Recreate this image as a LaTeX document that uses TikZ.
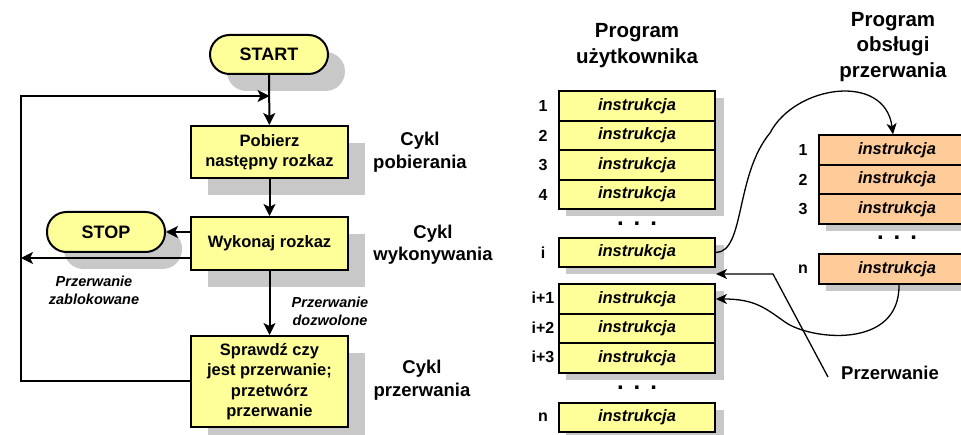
\documentclass[tikz,border=0pt]{standalone}
\usepackage{fontspec}
\setmainfont{Liberation Sans}
\usetikzlibrary{arrows.meta,shadows}
\definecolor{yel}{HTML}{FFFF99}
\definecolor{ora}{HTML}{FFCC99}
\definecolor{shd}{HTML}{C8C8C8}
\newcommand\fBox{\fontsize{16.5}{20.5}\selectfont\bfseries}
\newcommand\fTerm{\fontsize{18}{21}\selectfont\bfseries}
\newcommand\fCyk{\fontsize{18.5}{22.5}\selectfont\bfseries}
\newcommand\fIt{\fontsize{14.5}{18}\selectfont\bfseries\itshape}
\newcommand\fIns{\fontsize{16.5}{20}\selectfont\bfseries\itshape}
\newcommand\fNum{\fontsize{16}{19}\selectfont\bfseries}
\newcommand\fTit{\fontsize{20.5}{25.5}\selectfont\bfseries}
\newcommand\fDot{\fontsize{24}{24}\selectfont\bfseries}
\begin{document}
\begin{tikzpicture}[x=1pt,y=-1pt,
  bigshadow/.style={drop shadow={shadow xshift=17pt,shadow yshift=-17pt,fill=shd,opacity=1}},
  proc/.style={draw,line width=2pt,fill=yel,minimum width=157pt,align=center,inner sep=0pt,font=\fBox,bigshadow},
  term/.style={draw,line width=2pt,fill=yel,minimum width=118pt,minimum height=39pt,rounded corners=19.5pt,inner sep=0pt,font=\fTerm,bigshadow},
  flow/.style={line width=2pt,-{Stealth[length=12pt,width=12pt,inset=3pt]}},
  plain/.style={line width=2pt},
  conn/.style={line width=1.3pt,-{Stealth[length=11pt,width=10pt,inset=3pt]}},
  cyk/.style={align=center,font=\fCyk,inner sep=0pt},
  itl/.style={align=center,font=\fIt,inner sep=0pt},
  urow/.style={draw,line width=1.8pt,fill=yel,minimum width=156pt,minimum height=29.5pt,inner sep=0pt,font=\fIns},
  orow/.style={urow,fill=ora},
  num/.style={font=\fNum,inner sep=0pt},
  tit/.style={align=center,font=\fTit,inner sep=0pt},
  dots/.style={font=\fDot,inner sep=0pt}]
\useasboundingbox (0,0) rectangle (961,435);
\clip (0,0) rectangle (961,435);

% ---------------- flowchart ----------------
\node[term] (start) at (269,54.5) {START};
\node[proc,minimum height=52pt] (pob) at (269.5,152) {Pobierz\\następny rozkaz};
\node[proc,minimum height=53pt] (wyk) at (269.5,243.5) {Wykonaj rozkaz};
\node[term,minimum height=40pt] (stop) at (106,232) {STOP};
\node[proc,minimum height=91pt] (spr) at (269.5,381.5) {Sprawdź czy\\jest przerwanie;\\przetwórz\\przerwanie};

\coordinate (j1) at (269.5,96);
\coordinate (L1) at (21,96);
\coordinate (L2) at (21,381.5);
\coordinate (w2) at (191,258);

\draw[flow] (start) -- (pob);
\draw[flow] (pob) -- (wyk);
\draw[flow] (wyk) -- (spr);
\draw[flow] (spr.west) -- (L2) -- (L1) -- (j1);
\draw[flow] (wyk.west |- stop.east) -- (stop.east);
\draw[flow] (wyk.west |- w2) -- (L1 |- w2);

\node[itl] (pzab) at (94,290) {Przerwanie\\zablokowane};
\node[itl] (pdoz) at (330,311) {Przerwanie\\dozwolone};
\node[cyk] (c1) at (420,152) {Cykl\\pobierania};
\node[cyk] (c2) at (433,244.5) {Cykl\\wykonywania};
\node[cyk] (c3) at (422,380) {Cykl\\przerwania};

% ---------------- user program ----------------
\node[tit] (t1) at (637,45.5) {Program\\użytkownika};
\node[tit] (t2) at (893,47) {Program\\obsługi\\przerwania};

\fill[shd] (566,98) rectangle (724,216);
\fill[shd] (566,245) rectangle (724,274);
\fill[shd] (566,291) rectangle (724,380);
\fill[shd] (566,410) rectangle (724,439);

\node[urow] (u1) at (637,106) {instrukcja};
\node[urow] (u2) at (637,135.5) {instrukcja};
\node[urow] (u3) at (637,165) {instrukcja};
\node[urow] (u4) at (637,194.5) {instrukcja};
\node[urow] (ui) at (637,252.5) {instrukcja};
\node[urow] (ua1) at (637,299) {instrukcja};
\node[urow] (ua2) at (637,328.5) {instrukcja};
\node[urow] (ua3) at (637,358) {instrukcja};
\node[urow] (un) at (637,417.5) {instrukcja};

\node[num] at (543,106) {1};
\node[num] at (543,135.5) {2};
\node[num] at (543,165) {3};
\node[num] at (543,194.5) {4};
\node[num] at (543,252.5) {i};
\node[num] at (543,298) {i+1};
\node[num] at (543,327.5) {i+2};
\node[num] at (543,357) {i+3};
\node[num] at (543,417.5) {n};
\node[dots] (d1) at (637,224) {.\hspace{10pt}.\hspace{10pt}.};
\node[dots] (d2) at (637,388) {.\hspace{10pt}.\hspace{10pt}.};

% ---------------- interrupt handler ----------------
\fill[shd] (826,142) rectangle (990,231);
\fill[shd] (826,261) rectangle (990,291);
\node[orow] (o1) at (897,150) {instrukcja};
\node[orow] (o2) at (897,179.5) {instrukcja};
\node[orow] (o3) at (897,209) {instrukcja};
\node[orow] (on) at (897,269) {instrukcja};
\node[num] at (803,150) {1};
\node[num] at (803,179.5) {2};
\node[num] at (803,209) {3};
\node[num] at (803,269) {n};
\node[dots] (d3) at (897,238) {.\hspace{10pt}.\hspace{10pt}.};

% ---------------- connectors ----------------
\draw[conn] (ui.east) .. controls (745,252) and (735,175) .. (770,133)
  .. controls (795,85) and (885,72) .. ([xshift=-4pt]o1.north);
\draw[conn] ([xshift=2pt]on.south) .. controls (900,350) and (810,340) .. (785,322)
  .. controls (765,308) and (755,299) .. (ua1.east);

\node[font=\fCyk,inner sep=0pt] (prz) at (890,373) {Przerwanie};
\coordinate (pz) at (828,377);
\coordinate (pk) at (773,274);
\coordinate (pt) at (716,274);
\draw[conn] (pz) -- (pk) -- (pt);
\end{tikzpicture}
\end{document}
